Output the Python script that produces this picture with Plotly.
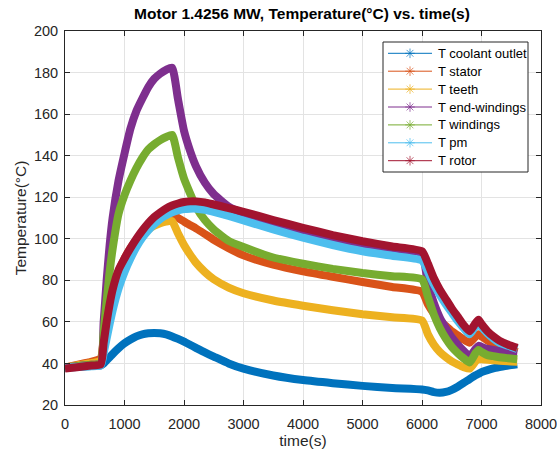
import plotly.graph_objects as go

# Time samples (s)
time_s = [0, 200, 400, 600, 650, 700, 750, 800, 900, 1000, 1100, 1200, 1300,
          1400, 1500, 1600, 1700, 1800, 1900, 2000, 2100, 2200, 2350, 2500,
          2750, 3000, 3500, 4000, 4500, 5000, 5500, 6000, 6100, 6200, 6300,
          6400, 6500, 6600, 6700, 6800, 6900, 6950, 7000, 7100, 7200, 7300,
          7450, 7600]

# Temperatures (°C)
t_coolant = [38, 38.3, 38.7, 39, 40, 41.5, 43, 44.5, 47.3, 49.7, 51.5, 53, 54,
             54.5, 54.7, 54.5, 54, 53, 51.8, 50.5, 49, 47.5, 45.3, 43.3,
             40, 37.5, 34.2, 32, 30.5, 29.2, 28.2, 27.5, 27, 26.2, 25.9,
             26.3, 27.3, 28.8, 30.6, 32.5, 34.3, 35, 35.8, 36.8, 37.6, 38.2,
             39, 39.6]
t_stator = [38, 39.3, 40.5, 42.5, 52, 60, 67, 73, 84, 90.5, 95.5, 99.5, 103,
            106, 108.3, 110, 111.2, 112, 110, 108.3, 106.6, 105, 102.3, 99.5,
            95.5, 92, 87.5, 84.3, 81.7, 79.2, 76.8, 74.5, 68.5, 64, 60.5,
            58, 55.5, 53.5, 51.5, 50, 53, 54, 53, 51, 49.5, 48.3,
            47, 45.5]
t_teeth = [38, 39, 40, 41.5, 51, 59, 66, 72, 82.5, 89, 94, 98.5, 102,
           104.5, 106.3, 107.5, 108.3, 108.5, 102.5, 97, 92.5, 88.5, 84, 80.5,
           76.5, 73.8, 70.3, 67.8, 65.6, 63.7, 62.2, 60.7, 54, 49, 45.5,
           43, 41, 39.5, 38.2, 37.5, 41, 42, 42, 41.8, 41.5, 41.3,
           41, 40.8]
t_endwind = [38, 38.7, 39.3, 40, 60, 80, 97, 110, 128, 141, 153, 161.5, 167.5,
             173, 177, 179.5, 181.3, 182.3, 167, 152, 142.5, 135, 127, 121.5,
             115.5, 112, 106.5, 102.5, 99, 96, 94, 92, 78, 69, 62,
             57, 52.5, 49, 46, 43.5, 47, 48.5, 48, 47, 46.5, 46,
             45, 44.5]
t_wind = [38, 38.7, 39.3, 40, 55, 70, 84, 95, 112, 121, 128, 134, 139,
          143, 145.5, 147.5, 149, 150, 139, 129, 122, 115.5, 109, 104.5,
          99, 96, 91, 88, 85.5, 83.5, 82, 80.5, 72, 63.5, 57,
          52, 48, 45, 42.5, 40.5, 45, 46.5, 45.5, 44, 43.5, 43,
          42.5, 42]
t_pm = [38, 38.3, 38.7, 39, 45, 52, 59, 65.5, 76, 84, 90.5, 96, 100.5,
        104, 107, 109.5, 111.3, 112.7, 113.7, 114.3, 114.5, 114.5, 114, 113,
        111, 108.8, 104.5, 100.5, 97, 94, 91.8, 89.5, 84, 78, 73,
        68.5, 64.5, 60.5, 57, 54, 58, 59.5, 57.5, 54.5, 52, 50,
        48.5, 47]
t_rotor = [37.5, 38.2, 38.9, 39.5, 50, 60, 68.5, 75.5, 85, 90.5, 95.5, 100, 104,
           107.5, 110.5, 112.7, 114.6, 116, 117, 117.7, 118, 118, 117.5, 116.5,
           114.8, 113, 109, 105.3, 101.8, 98.8, 96.3, 94, 88, 81, 75.5,
           71, 66.5, 62.5, 58.5, 55.5, 59.5, 61, 59, 55.5, 53, 51,
           49, 47.5]

names = ["T coolant outlet", "T stator", "T teeth", "T end-windings",
         "T windings", "T pm", "T rotor"]
series = [t_coolant, t_stator, t_teeth, t_endwind, t_wind, t_pm, t_rotor]
colors = ["#0072BD", "#D95319", "#EDB120", "#7E2F8E", "#77AC30", "#4DBEEE", "#A2142F"]

# Plot-area placement in pixels (figure is 557 x 453)
FIG_W, FIG_H = 557, 453
PL, PR, PT, PB = 65, 541, 31, 405


def fx(px):
    """pixel x -> fraction of plot area"""
    return (px - PL) / (PR - PL)


def fy(py):
    """pixel y -> fraction of plot area"""
    return (PB - py) / (PB - PT)


fig = go.Figure()

# Thick bands for the temperature curves
for name, vals, col in zip(names, series, colors):
    fig.add_trace(go.Scatter(
        x=time_s, y=vals, mode="lines", name=name, showlegend=False,
        line=dict(color=col, width=8, shape="spline", smoothing=0.5),
        hoverinfo="x+y+name"))

# Legend box drawn by hand on an overlay axis in 0..1 units
box_l, box_r, box_t, box_b = 383, 528, 42, 172
row0, row_gap = 53.3, 17.9
seg_l, seg_r, mark_x, text_x = 388, 432, 410, 436

fig.add_trace(go.Scatter(
    x=[fx(box_l), fx(box_r), fx(box_r), fx(box_l), fx(box_l)],
    y=[fy(box_t), fy(box_t), fy(box_b), fy(box_b), fy(box_t)],
    xaxis="x2", yaxis="y2", mode="lines", fill="toself", fillcolor="white",
    line=dict(color="#262626", width=1), showlegend=False, hoverinfo="skip",
    cliponaxis=False))

annotations = []
for i, (name, col) in enumerate(zip(names, colors)):
    yc = fy(row0 + i * row_gap)
    annotations.append(dict(text=name, xref="paper", yref="paper",
                            x=fx(text_x), y=yc, xanchor="left", yanchor="middle",
                            showarrow=False, font=dict(size=13, color="#000000")))
    # sample: thin line with an asterisk in the middle
    fig.add_trace(go.Scatter(
        x=[fx(seg_l), fx(mark_x), fx(seg_r)], y=[yc, yc, yc],
        xaxis="x2", yaxis="y2", mode="lines+markers", showlegend=False,
        hoverinfo="skip", cliponaxis=False,
        line=dict(color=col, width=1),
        marker=dict(symbol="asterisk-open", size=[0, 8, 0], color=col,
                    line=dict(color=col, width=1))))

axis_col = "#262626"
fig.update_layout(
    width=FIG_W, height=FIG_H,
    margin=dict(l=PL, r=FIG_W - PR, t=PT, b=FIG_H - PB, autoexpand=False),
    paper_bgcolor="white", plot_bgcolor="white",
    showlegend=False,
    font=dict(family="Liberation Sans, Arial, sans-serif", size=14.5, color=axis_col),
    title=dict(text="<b>Motor 1.4256 MW, Temperature(°C) vs. time(s)</b>",
               x=0.5422, xanchor="center", y=0.969, yanchor="middle",
               font=dict(size=15.5, color="#000000")),
    xaxis=dict(range=[0, 8000], dtick=1000, showgrid=True, gridcolor="#E3E3E3",
               zeroline=False, showline=True, linecolor=axis_col, linewidth=1,
               mirror="ticks", ticks="inside", ticklen=5, tickcolor=axis_col,
               ticklabelstandoff=6, ticklabeloverflow="allow", automargin=False,
               title=dict(text="time(s)", standoff=0, font=dict(size=15.5))),
    yaxis=dict(range=[20, 200], dtick=20, showgrid=True, gridcolor="#E3E3E3",
               zeroline=False, showline=True, linecolor=axis_col, linewidth=1,
               mirror="ticks", ticks="inside", ticklen=5, tickcolor=axis_col,
               ticklabelstandoff=3, ticklabeloverflow="allow", automargin=False,
               title=dict(text="Temperature(°C)", standoff=3, font=dict(size=15.5))),
    xaxis2=dict(overlaying="x", range=[0, 1], visible=False, fixedrange=True),
    yaxis2=dict(overlaying="y", range=[0, 1], visible=False, fixedrange=True),
    annotations=annotations,
)

fig.write_html("out.html")
